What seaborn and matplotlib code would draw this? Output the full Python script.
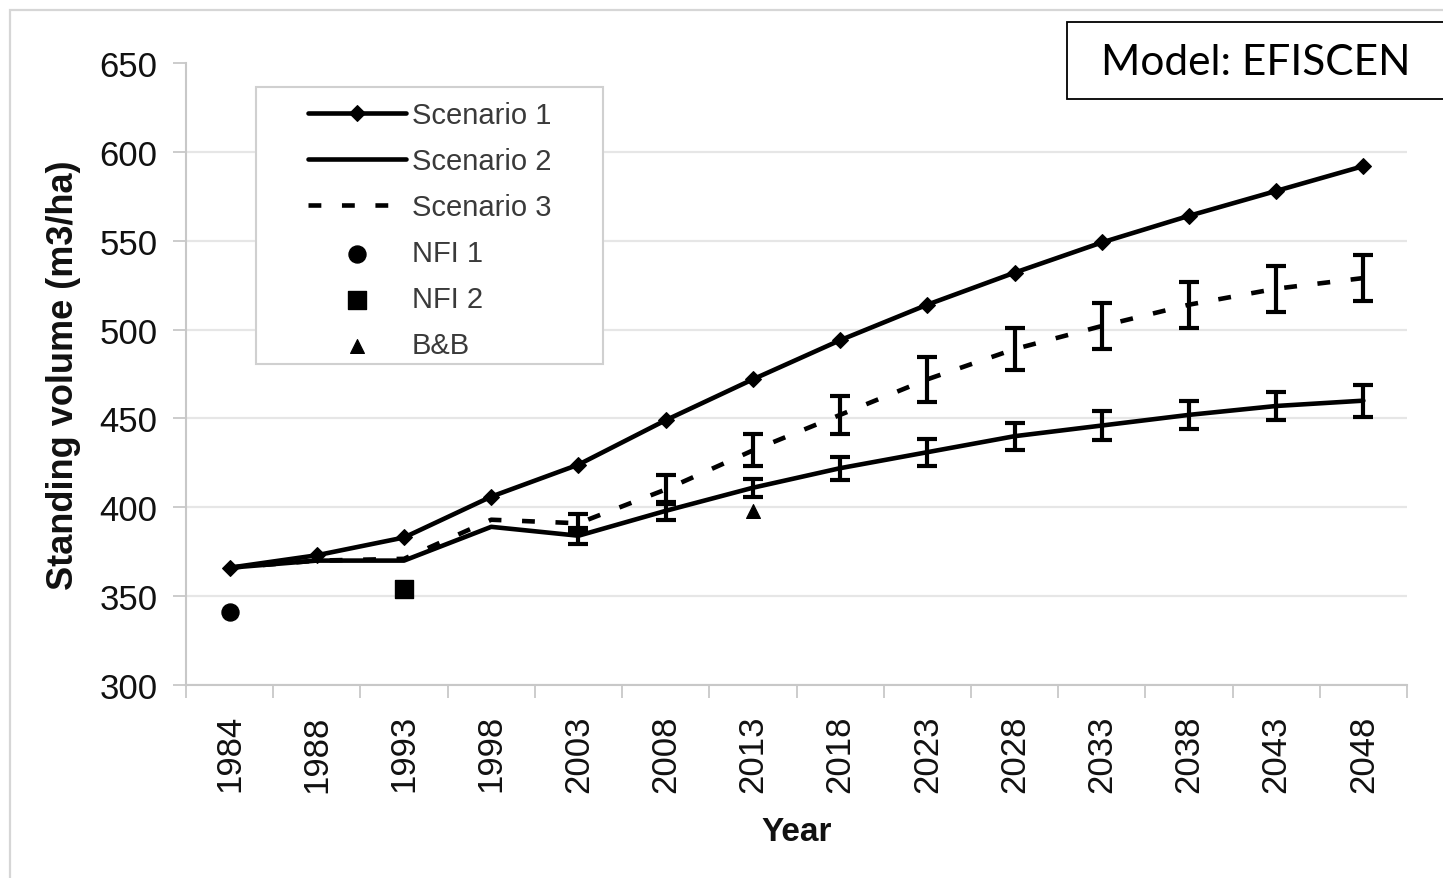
import numpy as np
import pandas as pd
import matplotlib
matplotlib.use("Agg")
import matplotlib.pyplot as plt
import seaborn as sns
from matplotlib.patches import Rectangle

# ---- data -------------------------------------------------------------
years = [1984, 1988, 1993, 1998, 2003, 2008, 2013, 2018, 2023, 2028, 2033, 2038, 2043, 2048]
scenario1 = [366, 373, 383, 406, 424, 449, 472, 494, 514, 532, 549, 564, 578, 592]
scenario2 = [366, 370, 370, 389, 384, 398, 411, 422, 431, 440, 446, 452, 457, 460]
scenario2_err = [np.nan, np.nan, np.nan, np.nan, 4.5, 5, 5, 6.5, 7.5, 7.5, 8, 8, 8, 9]
scenario3 = [366, 370, 371, 393, 391, 410, 432, 452, 472, 489, 502, 514, 523, 529]
scenario3_err = [np.nan, np.nan, np.nan, np.nan, 5, 8, 9, 10.5, 12.5, 12, 13, 13, 13, 13]
nfi1_year, nfi1_value = [1984], [341]
nfi2_year, nfi2_value = [1993], [354]
bb_year, bb_value = [2013], [398]
y_ticks = [300, 350, 400, 450, 500, 550, 600, 650]

# ---- style ------------------------------------------------------------
sns.set_theme(style="ticks")
plt.rcParams["font.family"] = ["Liberation Sans", "DejaVu Sans"]

W, H = 1443, 879
fig = plt.figure(figsize=(W / 100, H / 100), dpi=100)
fig.patch.set_facecolor("white")
ax_l, ax_r, ax_t, ax_b = 186, 1407, 64, 686
ax = fig.add_axes([ax_l / W, 1 - ax_b / H, (ax_r - ax_l) / W, (ax_b - ax_t) / H])

pos = {yr: i for i, yr in enumerate(years)}
x = np.array([pos[y] for y in years], dtype=float)

df = pd.DataFrame({
    "x": x,
    "s1": scenario1, "s2": scenario2, "s3": scenario3,
    "e2": scenario2_err, "e3": scenario3_err,
})

# ---- series -----------------------------------------------------------
sns.lineplot(data=df, x="x", y="s1", ax=ax, color="black", linewidth=3.3,
             marker="D", markersize=8.5, markeredgecolor="black",
             label="Scenario 1", zorder=4)
sns.lineplot(data=df, x="x", y="s2", ax=ax, color="black", linewidth=3.3,
             label="Scenario 2", zorder=4)
sns.lineplot(data=df, x="x", y="s3", ax=ax, color="black", linewidth=3.3,
             linestyle=(0, (2.8, 4.5)), label="Scenario 3", zorder=4)

m2 = df["e2"].notna()
ax.errorbar(df.loc[m2, "x"], df.loc[m2, "s2"], yerr=df.loc[m2, "e2"], fmt="none",
            ecolor="black", elinewidth=3, capsize=7, capthick=3, zorder=4)
m3 = df["e3"].notna()
ax.errorbar(df.loc[m3, "x"], df.loc[m3, "s3"], yerr=df.loc[m3, "e3"], fmt="none",
            ecolor="black", elinewidth=3, capsize=7, capthick=3, zorder=4)

sns.scatterplot(x=[pos[y] for y in nfi1_year], y=nfi1_value, ax=ax, marker="o",
                s=150, color="black", edgecolor="black", label="NFI 1", zorder=5)
sns.scatterplot(x=[pos[y] for y in nfi2_year], y=nfi2_value, ax=ax, marker="s",
                s=150, color="black", edgecolor="black", label="NFI 2", zorder=5)
sns.scatterplot(x=[pos[y] for y in bb_year], y=bb_value, ax=ax, marker="^",
                s=100, color="black", edgecolor="black", label="B&B", zorder=5)

# ---- axes -------------------------------------------------------------
ax.set_xlim(-0.5, len(years) - 0.5)
ax.set_ylim(300, 650)
ax.set_yticks(y_ticks)
ax.set_yticklabels([str(v) for v in y_ticks])
ax.set_xticks(x)
ax.set_xticklabels([str(y) for y in years])
ax.set_xticks(np.arange(-0.5, len(years), 1.0), minor=True)

spine_c = "#c8c8c8"
for side in ("top", "right"):
    ax.spines[side].set_visible(False)
for side in ("left", "bottom"):
    ax.spines[side].set_color(spine_c)
    ax.spines[side].set_linewidth(1.5)

ax.tick_params(axis="x", which="major", length=0, pad=21, labelsize=25,
               labelrotation=90, labelcolor="#111111")
ax.tick_params(axis="x", which="minor", length=9, width=1.3, color=spine_c,
               direction="out", bottom=True)
ax.tick_params(axis="y", which="major", length=9.5, width=1.3, color=spine_c,
               direction="out", pad=11, labelsize=25, labelcolor="#111111", left=True)
ax.tick_params(axis="y", which="minor", left=False)

ax.set_axisbelow(True)
ax.yaxis.grid(True, color="#e6e6e6", linewidth=1.6)
ax.xaxis.grid(False)
ax.yaxis.get_gridlines()[-1].set_visible(False)

ax.set_ylabel("Standing volume (m3/ha)", fontsize=26, fontweight="bold", color="#111111")
ax.yaxis.set_label_coords(-0.086, 0.5)
ax.set_xlabel("Year", fontsize=24, fontweight="bold", color="#111111")
ax.xaxis.set_label_coords(0.5, -0.21)

# ---- legend -----------------------------------------------------------
def ax_x(px):
    return (px - ax_l) / (ax_r - ax_l)

def ax_y(py):
    return (ax_b - py) / (ax_b - ax_t)

box_l, box_r, box_t, box_b = 256, 603, 88, 365
ax.add_patch(Rectangle((ax_x(box_l), ax_y(box_b)), ax_x(box_r) - ax_x(box_l),
                       ax_y(box_t) - ax_y(box_b), transform=ax.transAxes,
                       facecolor="white", edgecolor="#d0d0d0", linewidth=1.5,
                       zorder=1.5))
handles, labels = ax.get_legend_handles_labels()
leg = ax.legend(handles, labels, loc="upper left",
                bbox_to_anchor=(ax_x(308), ax_y(102)), frameon=False,
                borderpad=0, borderaxespad=0, handlelength=3.35,
                handletextpad=0.2, labelspacing=0.62, fontsize=21,
                labelcolor="#3a3a3a", scatterpoints=1, numpoints=1)
leg.set_zorder(6)

# ---- figure decorations ----------------------------------------------
fig.patches.append(Rectangle((10 / W, -0.05), 1.2, 1 - 11 / H + 0.05,
                             transform=fig.transFigure, fill=False,
                             edgecolor="#d6d6d6", linewidth=1.6, zorder=0))
fig.patches.append(Rectangle((1067 / W, 1 - 100 / H), 0.5, 77 / H,
                             transform=fig.transFigure, facecolor="white",
                             edgecolor="black", linewidth=1.3, zorder=3))
fig.text(1256 / W, 1 - 63 / H, "Model: EFISCEN", fontsize=30.5, family="Lato",
         ha="center", va="center", color="black", zorder=4)

fig.savefig("out.png", dpi=100, facecolor="white")
